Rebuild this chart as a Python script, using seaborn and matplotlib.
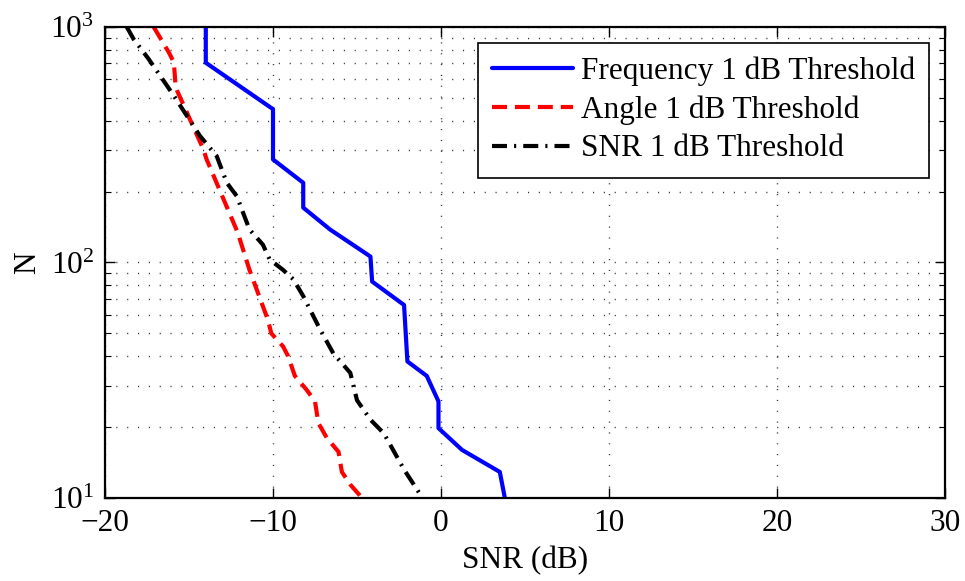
import pandas as pd
import seaborn as sns
import matplotlib.pyplot as plt
from matplotlib.ticker import LogLocator, NullFormatter

# values (SNR in dB, N)
freq_snr = [-14.0, -14.0, -10.0, -10.0, -8.2, -8.2, -6.6, -4.2, -4.1, -2.2, -2.0, -0.85, -0.15, -0.15, 1.25, 3.5, 3.8]
freq_n = [1000, 705, 448, 274, 218, 171, 138, 106, 83, 66, 38, 33, 25.7, 19.8, 16, 12.9, 10]

angle_snr = [-17.1, -16.2, -15.9, -15.8, -15.7, -14.15, -13.95, -12.1, -11.4, -10.3, -10.1, -9.4, -9.1, -8.7,
             -8.0, -7.5, -7.3, -6.8, -6.1, -5.9, -5.4, -4.7]
angle_n = [1000, 780, 708, 562, 535, 303, 274, 134, 93, 57, 50, 44, 40, 33, 28.8, 25.7, 20.8, 18, 15.7, 12.9, 11.4, 10]

snr_snr = [-18.7, -18.3, -17.4, -16.3, -15.9, -14.35, -13.35, -12.75, -12.15, -11.4, -10.6, -10.2, -9.4, -8.8,
           -8.2, -7.2, -6.4, -5.4, -5.0, -4.2, -3.4, -2.2, -1.1]
snr_n = [1000, 889, 731, 562, 510, 345, 283, 218, 191, 138, 119, 103, 93, 85, 72, 52, 41, 34, 26, 21.5, 18.8, 13.2, 10]

labels = ["Frequency 1 dB Threshold", "Angle 1 dB Threshold", "SNR 1 dB Threshold"]

sns.set_style("ticks", {"axes.edgecolor": "black", "text.color": "black",
                        "xtick.color": "black", "ytick.color": "black",
                        "axes.labelcolor": "black"})
plt.rcParams["font.family"] = ["Liberation Serif", "DejaVu Serif"]
plt.rcParams["mathtext.fontset"] = "stix"

fig = plt.figure(figsize=(9.65, 5.81), dpi=100)
ax = fig.add_axes([0.1088, 0.1429, 0.8705, 0.8106])

series = [
    (freq_snr, freq_n, "#0000ff", "-"),
    (angle_snr, angle_n, "#ff0000", (0, (3.6, 1.9))),
    (snr_snr, snr_n, "black", (0, (3.6, 1.7, 0.5, 1.7))),
]
for (xs, ys, col, ls), lab in zip(series, labels):
    df = pd.DataFrame({"SNR": xs, "N": ys})
    sns.lineplot(data=df, x="SNR", y="N", sort=False, estimator=None, color=col,
                 linestyle=ls, linewidth=3.0, label=lab, ax=ax)

ax.set_yscale("log")
ax.set_xlim(-20, 30)
ax.set_ylim(10, 1000)
ax.set_xticks([-20, -10, 0, 10, 20, 30])
ax.yaxis.set_minor_locator(LogLocator(base=10, subs=range(2, 10)))
ax.yaxis.set_minor_formatter(NullFormatter())

ax.tick_params(which="both", direction="in", top=True, right=True, labelsize=22.5, pad=8)
ax.tick_params(which="major", length=7, width=1.0)
ax.tick_params(which="minor", length=4, width=0.8)
for s in ax.spines.values():
    s.set_linewidth(1.6)

grid_style = dict(color="#333333", linestyle=(0, (0.8, 7)), linewidth=1.0)
ax.xaxis.grid(True, which="major", **grid_style)
ax.yaxis.grid(True, which="both", **grid_style)

ax.set_xlabel("SNR (dB)", fontsize=22.5, labelpad=6)
ax.set_ylabel("N", fontsize=22.5, labelpad=6)

leg = ax.legend(loc="upper right", fontsize=22.5, handlelength=2.6, handletextpad=0.25,
                borderpad=0.45, labelspacing=0.3, fancybox=False, framealpha=1,
                borderaxespad=0.5)
leg.get_frame().set_edgecolor("black")
leg.get_frame().set_linewidth(1.2)

fig.savefig("out.png", dpi=100)
